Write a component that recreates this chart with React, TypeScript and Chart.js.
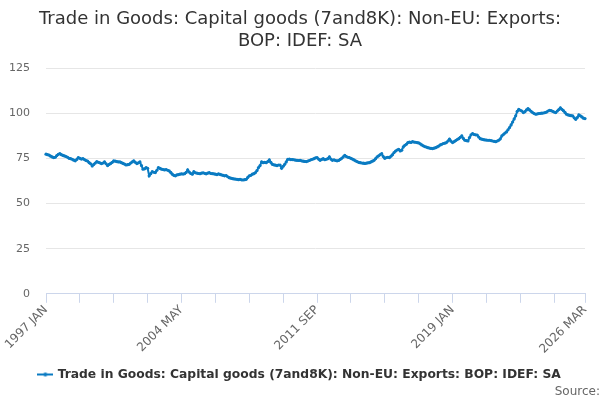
import { useEffect, useRef } from "react"
import { Chart, registerables } from "chart.js"

Chart.register(...registerables)

const MONTHS = ["JAN", "FEB", "MAR", "APR", "MAY", "JUN", "JUL", "AUG", "SEP", "OCT", "NOV", "DEC"]
const START_YEAR = 1997
const END_YEAR = 2026
const END_MONTH = 3 // MAR

// Index values, one row per year
const values: number[] = [
  77.3, 77.0, 76.8, 76.2, 75.8, 75.4, 75.6, 76.5, 77.2, 77.6, 77.0, 76.6, // 1997
  76.3, 76.0, 75.6, 75.0, 74.8, 74.5, 74.0, 73.6, 74.4, 75.4, 75.0, 74.6, // 1998
  74.8, 74.3, 73.8, 73.5, 72.6, 72.0, 70.8, 71.6, 72.4, 73.2, 72.8, 72.5, // 1999
  72.1, 72.4, 73.0, 72.0, 71.0, 71.6, 72.2, 72.8, 73.6, 73.4, 73.2, 73.0, // 2000
  73.0, 72.6, 72.2, 71.8, 71.3, 71.5, 71.7, 72.4, 73.0, 73.6, 72.8, 72.1, // 2001
  72.5, 73.0, 71.0, 69.0, 69.2, 69.8, 69.5, 65.3, 66.5, 67.6, 67.3, 67.1, // 2002
  68.4, 69.9, 69.4, 69.0, 68.8, 68.6, 68.8, 68.4, 68.0, 67.2, 66.2, 65.6, // 2003
  65.3, 65.8, 66.0, 66.2, 66.4, 66.3, 66.5, 67.2, 68.6, 67.4, 66.6, 66.2, // 2004
  67.6, 67.0, 66.8, 66.6, 66.5, 66.8, 67.0, 66.7, 66.4, 66.8, 67.1, 66.6, // 2005
  66.5, 66.4, 66.2, 66.0, 66.4, 66.1, 65.8, 65.6, 65.3, 65.5, 64.8, 64.3, // 2006
  64.0, 63.8, 63.6, 63.5, 63.4, 63.2, 63.4, 63.1, 63.0, 63.2, 63.4, 64.4, // 2007
  65.3, 65.6, 66.2, 66.5, 67.1, 68.2, 69.9, 71.0, 73.0, 72.6, 72.8, 72.6, // 2008
  73.2, 74.1, 72.8, 71.7, 71.4, 71.2, 71.0, 71.3, 71.3, 69.5, 70.6, 71.7, // 2009
  73.0, 74.5, 74.6, 74.3, 74.3, 74.2, 74.0, 73.9, 73.8, 73.9, 73.6, 73.4, // 2010
  73.3, 73.2, 73.5, 73.8, 74.2, 74.5, 74.8, 75.2, 75.4, 74.6, 73.9, 74.4, // 2011
  74.8, 74.2, 74.5, 74.8, 75.8, 74.6, 73.9, 74.2, 73.8, 73.6, 73.8, 74.4, // 2012
  75.0, 75.8, 76.7, 76.0, 75.6, 75.4, 75.0, 74.6, 74.1, 73.6, 73.2, 72.8, // 2013
  72.6, 72.4, 72.3, 72.2, 72.3, 72.5, 72.6, 73.0, 73.4, 73.9, 74.8, 75.8, // 2014
  76.4, 77.0, 77.6, 76.0, 75.0, 75.4, 75.6, 75.4, 76.2, 77.0, 78.2, 79.0, // 2015
  79.6, 80.0, 79.1, 79.5, 81.3, 82.2, 82.8, 83.7, 84.0, 83.8, 84.2, 84.0, // 2016
  83.9, 83.7, 83.5, 83.0, 82.4, 81.9, 81.5, 81.2, 80.9, 80.7, 80.5, 80.4, // 2017
  80.6, 80.9, 81.3, 81.8, 82.4, 82.8, 83.2, 83.4, 83.7, 84.6, 85.6, 84.5, // 2018
  83.7, 84.2, 84.8, 85.4, 85.9, 86.6, 87.4, 86.0, 85.0, 84.8, 84.6, 86.5, // 2019
  88.0, 88.7, 88.2, 88.0, 87.9, 86.8, 85.9, 85.6, 85.4, 85.2, 85.1, 85.0, // 2020
  85.0, 84.8, 84.6, 84.4, 84.2, 84.6, 85.0, 85.8, 87.4, 88.2, 89.0, 89.6, // 2021
  90.8, 92.0, 93.5, 95.1, 96.8, 98.5, 101.0, 102.1, 101.6, 101.2, 100.3, 100.8, // 2022
  101.8, 102.5, 101.8, 101.0, 100.3, 99.8, 99.4, 99.6, 99.8, 99.9, 100.0, 100.1, // 2023
  100.3, 100.6, 101.2, 101.6, 101.4, 101.0, 100.6, 100.3, 101.2, 102.0, 103.0, 102.1, // 2024
  101.4, 100.4, 99.4, 99.0, 98.8, 98.6, 98.5, 97.4, 96.6, 97.6, 99.0, 98.5, // 2025
  97.9, 97.2, 97.0, // 2026
]

const yTicks = [0, 25, 50, 75, 100, 125]

const labels: string[] = []
for (let y = START_YEAR; y <= END_YEAR; y++) {
  for (let m = 0; m < 12; m++) {
    if (y === END_YEAR && m >= END_MONTH) break
    labels.push(`${y} ${MONTHS[m]}`)
  }
}

const SERIES_NAME = "Trade in Goods: Capital goods (7and8K): Non-EU: Exports: BOP: IDEF: SA"
const FONT = "'DejaVu Sans', sans-serif"
const LINE_COLOR = "#0a7bc2"

// small line-with-dot swatch for the legend
function makeLegendSwatch() {
  const c = document.createElement("canvas")
  c.width = 16
  c.height = 6
  const g = c.getContext("2d")
  if (g) {
    g.strokeStyle = LINE_COLOR
    g.lineWidth = 2
    g.beginPath()
    g.moveTo(0, 3)
    g.lineTo(16, 3)
    g.stroke()
    g.fillStyle = LINE_COLOR
    g.beginPath()
    g.arc(8, 3, 2, 0, Math.PI * 2)
    g.fill()
  }
  return c
}

export default function App() {
  const chartRef = useRef<HTMLCanvasElement>(null)
  const chartInstance = useRef<Chart | null>(null)

  useEffect(() => {
    document.body.style.margin = "0"
    if (!chartRef.current) return
    if (chartInstance.current) chartInstance.current.destroy()

    const ctx = chartRef.current.getContext("2d")
    if (!ctx) return

    const last = labels.length - 1
    const swatch = makeLegendSwatch()

    chartInstance.current = new Chart(ctx, {
      type: "line",
      data: {
        labels,
        datasets: [
          {
            label: SERIES_NAME,
            data: values,
            borderColor: LINE_COLOR,
            backgroundColor: LINE_COLOR,
            borderWidth: 2,
            pointRadius: 1.6,
            pointBorderWidth: 0,
            tension: 0,
          },
        ],
      },
      options: {
        animation: false,
        responsive: true,
        maintainAspectRatio: false,
        layout: { padding: 0 },
        scales: {
          x: {
            type: "category",
            grid: {
              display: true,
              drawOnChartArea: false,
              drawTicks: true,
              tickLength: 9,
              color: "#ccd6eb",
            },
            border: { display: true, color: "#ccd6eb" },
            ticks: {
              autoSkip: false,
              minRotation: 45,
              maxRotation: 45,
              padding: 0,
              color: "#666666",
              font: { family: FONT, size: 12 },
              callback: (_v, index) => {
                if (index % 88 === 0 || index === last) return labels[index]
                if (index % 22 === 0) return ""
                return null
              },
            },
            afterFit: (axis) => {
              axis.height += 8
              axis.paddingLeft = 0
              axis.paddingRight = 15
            },
          },
          y: {
            min: 0,
            max: 125,
            afterBuildTicks: (axis) => {
              axis.ticks = yTicks.map((v) => ({ value: v }))
            },
            afterFit: (axis) => {
              axis.width = 46
            },
            grid: { color: "#e6e6e6", drawTicks: false },
            border: { display: false },
            ticks: {
              padding: 16,
              color: "#666666",
              font: { family: FONT, size: 11 },
            },
          },
        },
        plugins: {
          title: {
            display: true,
            text: ["Trade in Goods: Capital goods (7and8K): Non-EU: Exports:", "BOP: IDEF: SA"],
            color: "#333333",
            font: { family: FONT, size: 18, weight: "normal", lineHeight: 1.25 },
            padding: { top: 8, bottom: 15 },
          },
          subtitle: {
            display: true,
            text: "Source:",
            position: "bottom",
            align: "end",
            color: "#666666",
            font: { family: FONT, size: 12, weight: "normal" },
            padding: { top: -6, bottom: 1 },
          },
          legend: {
            position: "bottom",
            labels: {
              usePointStyle: true,
              pointStyle: swatch,
              color: "#333333",
              font: { family: FONT, size: 12.3, weight: "bold" },
              padding: 4,
            },
          },
          tooltip: { enabled: false },
        },
      },
    })

    return () => {
      if (chartInstance.current) {
        chartInstance.current.destroy()
        chartInstance.current = null
      }
    }
  }, [])

  return (
    <div style={{ width: 600, height: 400, position: "relative" }}>
      <canvas ref={chartRef} />
    </div>
  )
}
